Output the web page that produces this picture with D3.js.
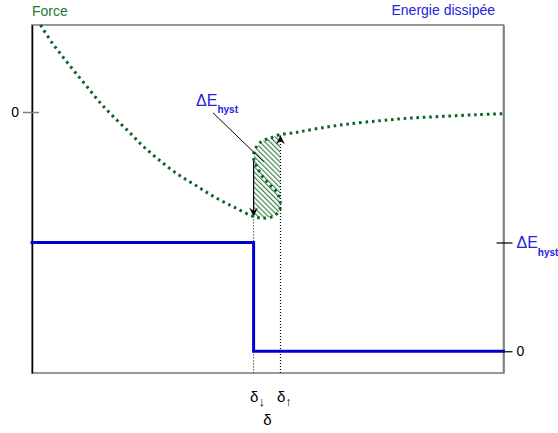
<!DOCTYPE html>
<html>
<head>
<meta charset="utf-8">
<script src="https://cdn.jsdelivr.net/npm/d3@7"></script>
<style>
  body { margin: 0; background: #fff; }
  text { font-family: "Liberation Sans", Arial, sans-serif; }
</style>
</head>
<body>
<div id="chart"></div>
<script>
// --- data (delta in arbitrary units, force with 0 at the tick) ---
const deltaDown = 4.70;
const deltaUp = 5.27;

// loading branch: from top-left down to the lower turning point
const loadBranch = [
  [0.18, 1.00], [0.42, 0.80], [0.66, 0.63], [0.91, 0.46], [1.17, 0.29],
  [1.44, 0.11], [1.72, -0.05], [2.06, -0.23], [2.35, -0.39], [2.67, -0.54],
  [3.05, -0.70], [3.46, -0.84], [3.88, -0.98], [4.31, -1.10], [4.69, -1.20],
  [4.90, -1.22], [5.11, -1.20], [5.24, -1.14], [5.27, -1.06]
];
// unstable (diagonal) branch
const unstableBranch = [
  [5.20, -0.93], [5.05, -0.84], [4.90, -0.75], [4.77, -0.63]
];
// upper branch: from the left turning point to the plateau
const upperBranch = [
  [4.70, -0.53], [4.73, -0.43], [4.86, -0.34], [5.05, -0.30], [5.26, -0.26],
  [5.54, -0.24], [5.75, -0.22], [6.17, -0.18], [6.68, -0.14], [7.38, -0.10],
  [8.02, -0.07], [8.72, -0.05], [9.44, -0.03], [9.99, -0.02]
];
// dissipated energy, step at delta-down
const energySteps = [[0, 1], [deltaDown, 0], [10, 0]];

const forceTicks = [0];
const energyTicks = [0, 1];
const deltaTicks = [deltaDown, deltaUp];
const deltaTickArrows = ["\u2193", "\u2191"];

const width = 558;
const height = 433;
const margin = { top: 25, right: 54.5, bottom: 60, left: 32 };

const GREEN = "#0b6426";
const BLUE = "#0000cc";
const TEXT_BLUE = "#2323dd";
const GRAY = "#808080";

const svg = d3.select("#chart").append("svg")
  .attr("width", width).attr("height", height)
  .style("background", "#fff");

const x = d3.scaleLinear().domain([0, 10]).range([margin.left, width - margin.right]);
const yF = d3.scaleLinear().domain([-3, 1]).range([height - margin.bottom, margin.top]);
const yE = d3.scaleLinear().domain([-0.2, 3]).range([height - margin.bottom, margin.top]);

const defs = svg.append("defs");
const hatch = defs.append("pattern").attr("id", "hatch")
  .attr("patternUnits", "userSpaceOnUse").attr("width", 3.6).attr("height", 3.6)
  .attr("patternTransform", "rotate(-45)");
hatch.append("rect").attr("width", 3.6).attr("height", 3.6).attr("fill", "#fff");
hatch.append("line").attr("x1", 0.6).attr("y1", 0).attr("x2", 0.6).attr("y2", 3.6)
  .attr("stroke", "#2f7c40").attr("stroke-width", 1.1);

defs.append("marker").attr("id", "arrow")
  .attr("viewBox", "0 0 10 10").attr("refX", 10).attr("refY", 5)
  .attr("markerWidth", 11).attr("markerHeight", 9)
  .attr("markerUnits", "userSpaceOnUse").attr("orient", "auto")
  .append("path").attr("d", "M0,0 L10,5 L0,10 L4,5 Z").attr("fill", "#000");

// hatched hysteresis area
const hatchPts = loadBranch.filter(d => d[0] >= deltaDown - 0.01)
  .concat(upperBranch.filter(d => d[0] <= deltaUp).reverse());
svg.append("path").datum(hatchPts)
  .attr("fill", "url(#hatch)")
  .attr("d", d3.line().x(d => x(d[0])).y(d => yF(d[1])).curve(d3.curveLinearClosed));

// frame
const plotW = x(10) - x(0);
const plotH = yF(-3) - yF(1);
svg.append("rect").attr("x", x(0)).attr("y", yF(1)).attr("width", plotW).attr("height", plotH)
  .attr("fill", "none").attr("stroke", GRAY).attr("stroke-width", 1.6);

// left axis (force)
const axL = svg.append("g").attr("transform", `translate(${x(0)},0)`)
  .call(d3.axisLeft(yF).tickValues(forceTicks).tickSizeInner(9).tickSizeOuter(0).tickPadding(5)
    .tickFormat(d3.format("d")));
axL.select(".domain").attr("stroke", "#000").attr("stroke-width", 1.5);
axL.selectAll(".tick line").attr("x1", 7).attr("x2", -9).attr("stroke", GRAY).attr("stroke-width", 1.5);
axL.selectAll(".tick text").attr("font-size", 14).attr("font-family", "Liberation Sans, Arial, sans-serif")
  .attr("fill", "#000").attr("x", -13);

// right axis (energy)
const axR = svg.append("g").attr("transform", `translate(${x(10)},0)`)
  .call(d3.axisRight(yE).tickValues(energyTicks).tickSizeInner(9).tickSizeOuter(0).tickPadding(4)
    .tickFormat(""));
axR.select(".domain").attr("stroke", GRAY).attr("stroke-width", 1.6);
axR.selectAll(".tick line").attr("stroke", "#000").attr("stroke-width", 1.2)
  .attr("x1", d => d === 1 ? -7 : 0);
axR.selectAll(".tick text").each(function (d) {
  const t = d3.select(this).attr("x", 13).attr("font-family", "Liberation Sans, Arial, sans-serif");
  if (d === 0) {
    t.attr("fill", "#000").attr("font-size", 14).text("0");
  } else {
    t.attr("fill", TEXT_BLUE).attr("font-size", 16);
    t.append("tspan").text("\u0394E");
    t.append("tspan").attr("font-size", 10).attr("font-weight", "bold").attr("dy", 8).text("hyst");
  }
});

// bottom axis (delta)
const axB = svg.append("g").attr("transform", `translate(0,${yF(-3)})`)
  .call(d3.axisBottom(x).tickValues(deltaTicks).tickSize(0).tickPadding(16).tickFormat(""));
axB.select(".domain").remove();
axB.selectAll(".tick text").each(function (d, i) {
  const t = d3.select(this).attr("fill", "#000").attr("font-size", 15)
    .attr("text-anchor", "start").attr("x", -4).attr("dy", 0).attr("y", 29);
  t.append("tspan").text("\u03b4");
  t.append("tspan").attr("font-size", 13).attr("dy", 4)
    .text(deltaTickArrows[i]);
});
svg.append("text").attr("x", (x(deltaDown) + x(deltaUp)) / 2 + 0.5).attr("y", yF(-3) + 52)
  .attr("text-anchor", "middle").attr("font-size", 15).text("\u03b4");

// vertical guides and arrows
const dotted = "1,2";
svg.append("line").attr("x1", x(deltaDown)).attr("x2", x(deltaDown))
  .attr("y1", yF(-1.20)).attr("y2", yF(-3))
  .attr("stroke", "#000").attr("stroke-width", 1).attr("stroke-dasharray", dotted);
svg.append("line").attr("x1", x(deltaUp)).attr("x2", x(deltaUp))
  .attr("y1", yF(-3)).attr("y2", yF(-0.27))
  .attr("stroke", "#000").attr("stroke-width", 1.2).attr("stroke-dasharray", dotted)
  .attr("marker-end", "url(#arrow)");
svg.append("line").attr("x1", x(deltaDown)).attr("x2", x(deltaDown))
  .attr("y1", yF(-0.53)).attr("y2", yF(-1.20))
  .attr("stroke", "#000").attr("stroke-width", 1.2)
  .attr("marker-end", "url(#arrow)");

// energy step line
svg.append("path").datum(energySteps)
  .attr("fill", "none").attr("stroke", BLUE).attr("stroke-width", 3).attr("stroke-linecap", "square")
  .attr("d", d3.line().x(d => x(d[0])).y(d => yE(d[1])).curve(d3.curveStepAfter));

// force curve (dotted green)
const curve = loadBranch.concat(unstableBranch, upperBranch);
svg.append("path").datum(curve)
  .attr("fill", "none").attr("stroke", GREEN).attr("stroke-width", 3)
  .attr("stroke-dasharray", "2.6,3.8")
  .attr("d", d3.line().x(d => x(d[0])).y(d => yF(d[1])).curve(d3.curveCatmullRom));

// annotation
const ax0 = x(3.84), ay0 = yF(-0.01);
svg.append("line").attr("x1", ax0).attr("y1", ay0).attr("x2", x(4.92)).attr("y2", yF(-0.575))
  .attr("stroke", "#000").attr("stroke-width", 1);
const ann = svg.append("text").attr("x", ax0 - 17).attr("y", ay0 - 7).attr("fill", TEXT_BLUE).attr("font-size", 16);
ann.append("tspan").text("\u0394E");
ann.append("tspan").attr("font-size", 10).attr("font-weight", "bold").attr("dy", 7).text("hyst");

// titles
svg.append("text").attr("x", margin.left).attr("y", 16).attr("fill", "#1f7a35").attr("font-size", 14).text("Force");
svg.append("text").attr("x", 495).attr("y", 15).attr("text-anchor", "end")
  .attr("fill", TEXT_BLUE).attr("font-size", 14).text("Energie dissip\u00e9e");
</script>
</body>
</html>
